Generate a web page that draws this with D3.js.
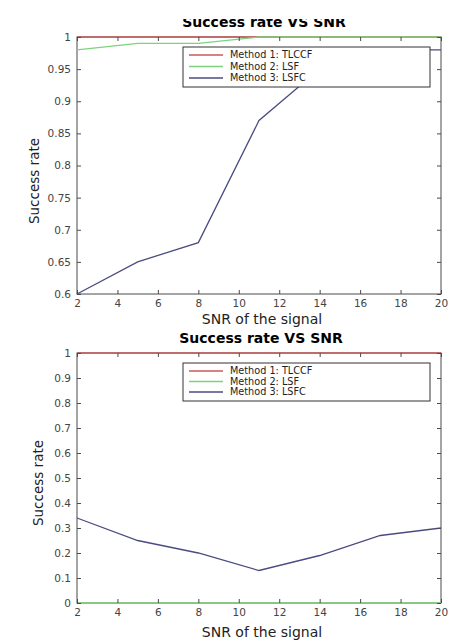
<!DOCTYPE html>
<html>
<head>
<meta charset="utf-8">
<script src="https://cdn.jsdelivr.net/npm/d3@7"></script>
<style>
  body { margin: 0; background: #fff; }
  svg { display: block; font-family: "DejaVu Sans", sans-serif; }
</style>
</head>
<body>
<div id="chart"></div>
<script>
// SNR values shared by both panels
const snr = [2, 5, 8, 11, 14, 17, 20];
const methodNames = ["Method 1: TLCCF", "Method 2: LSF", "Method 3: LSFC"];
const methodColors = ["#c85a5a", "#7ed27e", "#4b4b82"];

// top panel values
const topTlccf = [1, 1, 1, 1, 1, 1, 1];
const topLsf = [0.98, 0.99, 0.99, 1, 1, 1, 1];
const topLsfc = [0.6, 0.65, 0.68, 0.87, 0.95, 0.98, 0.98];
const topYTicks = [0.6, 0.65, 0.7, 0.75, 0.8, 0.85, 0.9, 0.95, 1];

// bottom panel values
const botTlccf = [1, 1, 1, 1, 1, 1, 1];
const botLsf = [0, 0, 0, 0, 0, 0, 0];
const botLsfc = [0.34, 0.25, 0.20, 0.13, 0.19, 0.27, 0.30];
const botYTicks = [0, 0.1, 0.2, 0.3, 0.4, 0.5, 0.6, 0.7, 0.8, 0.9, 1];

const xTicks = [2, 4, 6, 8, 10, 12, 14, 16, 18, 20];
const axisColor = "#4a4a4a";

const svg = d3.select("#chart").append("svg")
    .attr("width", 456)
    .attr("height", 640);

function drawPanel(opts) {
    const x = d3.scaleLinear().domain([2, 20]).range([77, 441]);
    const y = d3.scaleLinear().domain(opts.yDomain).range([opts.bottom, opts.top]);
    const g = svg.append("g");

    // title (top one is cropped in the reference)
    const title = g.append("text")
        .attr("x", opts.titleX)
        .attr("y", opts.titleY)
        .attr("text-anchor", "middle")
        .attr("font-size", 14)
        .attr("font-weight", "bold")
        .attr("fill", "#000")
        .text("Success rate VS SNR");

    // lines
    const series = [opts.tlccf, opts.lsf, opts.lsfc];
    const line = d3.line()
        .x((d, i) => x(snr[i]))
        .y(d => y(d));
    series.forEach((s, k) => {
        g.append("path")
            .datum(s)
            .attr("d", line)
            .attr("fill", "none")
            .attr("stroke", methodColors[k])
            .attr("stroke-width", 1.3);
    });

    // axes with inward ticks, box all round
    const fmt = d => String(+d.toFixed(2));
    g.append("g")
        .attr("transform", `translate(0,${opts.bottom})`)
        .call(d3.axisBottom(x).tickValues(xTicks).tickSizeInner(-4).tickSizeOuter(0).tickPadding(6))
        .call(a => a.select(".domain").remove());
    g.append("g")
        .attr("transform", `translate(0,${opts.top})`)
        .call(d3.axisTop(x).tickValues(xTicks).tickSizeInner(-4).tickSizeOuter(0).tickFormat(""))
        .call(a => a.select(".domain").remove());
    g.append("g")
        .attr("transform", "translate(77,0)")
        .call(d3.axisLeft(y).tickValues(opts.yTicks).tickFormat(fmt).tickSizeInner(-4).tickSizeOuter(0).tickPadding(6))
        .call(a => a.select(".domain").remove());
    g.append("g")
        .attr("transform", "translate(441,0)")
        .call(d3.axisRight(y).tickValues(opts.yTicks).tickSizeInner(-4).tickSizeOuter(0).tickFormat(""))
        .call(a => a.select(".domain").remove());

    g.selectAll(".tick line").attr("stroke", axisColor);
    g.selectAll(".tick text")
        .attr("fill", "#444")
        .attr("font-size", 10.5)
        .attr("font-family", "DejaVu Sans, sans-serif");

    // plot box, kept under the lines
    g.append("rect")
        .attr("x", 77).attr("y", opts.top)
        .attr("width", 364).attr("height", opts.bottom - opts.top)
        .attr("fill", "none")
        .attr("stroke", axisColor)
        .attr("stroke-width", 1)
        .lower();

    // axis labels
    g.append("text")
        .attr("x", opts.xLabelX)
        .attr("y", opts.xLabelY)
        .attr("text-anchor", "middle")
        .attr("font-size", 14)
        .attr("fill", "#222")
        .text("SNR of the signal");
    g.append("text")
        .attr("transform", `translate(${opts.yLabelX},${opts.yLabelY}) rotate(-90)`)
        .attr("text-anchor", "middle")
        .attr("font-size", 13.5)
        .attr("fill", "#222")
        .text("Success rate");

    // legend
    const lg = g.append("g");
    lg.append("rect")
        .attr("x", 183).attr("y", opts.legTop)
        .attr("width", 247).attr("height", opts.legH)
        .attr("fill", "#fff")
        .attr("stroke", "#333")
        .attr("stroke-width", 1);
    methodNames.forEach((name, k) => {
        const ry = opts.legTop + opts.legRow0 + k * opts.legStep;
        lg.append("line")
            .attr("x1", 189).attr("x2", 223)
            .attr("y1", ry).attr("y2", ry)
            .attr("stroke", methodColors[k])
            .attr("stroke-width", 1.3);
        lg.append("text")
            .attr("x", 230).attr("y", ry)
            .attr("dy", "0.35em")
            .attr("font-size", 9.7)
            .attr("fill", "#222")
            .text(name);
    });

    return title;
}

drawPanel({
    yDomain: [0.6, 1], yTicks: topYTicks, top: 37, bottom: 294,
    tlccf: topTlccf, lsf: topLsf, lsfc: topLsfc,
    titleX: 264, titleY: 27,
    xLabelX: 262, xLabelY: 324, yLabelX: 39, yLabelY: 181,
    legTop: 47, legH: 40, legRow0: 8, legStep: 11.5
});

drawPanel({
    yDomain: [0, 1], yTicks: botYTicks, top: 353, bottom: 603,
    tlccf: botTlccf, lsf: botLsf, lsfc: botLsfc,
    titleX: 261, titleY: 343,
    xLabelX: 262, xLabelY: 637, yLabelX: 43, yLabelY: 483,
    legTop: 363, legH: 38, legRow0: 8, legStep: 10.5
});

// the reference image crops the top of the first title
svg.append("rect")
    .attr("x", 0).attr("y", 0)
    .attr("width", 456).attr("height", 19)
    .attr("fill", "#fff");
</script>
</body>
</html>
